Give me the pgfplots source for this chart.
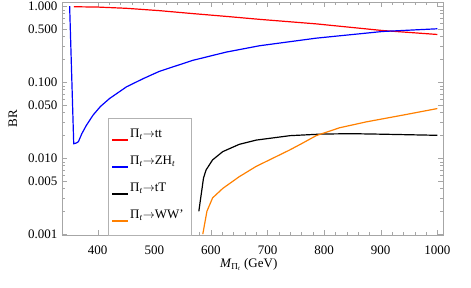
\documentclass[border=0pt]{standalone}
\usepackage{fontspec}
\setmainfont{Liberation Serif}
\usepackage{pgfplots}
\pgfplotsset{compat=1.18}
\definecolor{mmaorange}{rgb}{1,0.5,0}
\protected\def\Pit{Π\textsubscript{\textit{t}}}
\protected\def\ar{$\rightarrow$}
\begin{document}
\fontsize{13}{15}\selectfont
\begin{tikzpicture}
\useasboundingbox (-62pt,-52.5pt) rectangle (409pt,235.5pt);
\begin{axis}[
  scale only axis,
  width=381pt, height=233pt,
  at={(0,0)}, anchor=south west,
  xmin=337, xmax=1010,
  ymode=log, ymin=0.00096, ymax=1.12,
  xtick={400,500,600,700,800,900,1000},
  minor x tick num=4,
  ytick={0.001,0.005,0.01,0.05,0.1,0.5,1},
  yticklabels={0.001,0.005,0.010,0.050,0.100,0.500,1.000},
  minor ytick={0.002,0.003,0.004,0.006,0.007,0.008,0.009,0.02,0.03,0.04,0.06,0.07,0.08,0.09,0.2,0.3,0.4,0.6,0.7,0.8,0.9},
  /pgf/number format/assume math mode=true,
  /pgf/number format/1000 sep={},
  tick align=inside,
  major tick length=5pt, minor tick length=3pt,
  axis line style={gray!70},
  tick style={gray!70},
  xticklabel style={yshift=-6pt},
  xlabel={\textit{M}\textsubscript{\Pit} (GeV)},
  ylabel={BR},
  x label style={at={(axis description cs:0.49,-0.125)}, anchor=center},
  y label style={at={(axis description cs:-0.1286,0.5)}, anchor=center},
]
\addplot[red, line width=1.2pt] coordinates {
(358,0.985) (400,0.975) (450,0.94) (509,0.875) (568,0.80) (627,0.735)
(686,0.672) (786,0.586) (903,0.479) (1000,0.425)
};
\addplot[blue, line width=1.2pt] coordinates {
(350.5,1.0) (357.7,0.0155) (362,0.0158) (366,0.0165) (372,0.021) (380,0.027)
(392,0.037) (405,0.048) (421,0.061) (451,0.087) (480,0.111) (509,0.139)
(568,0.194) (627,0.249) (686,0.302) (786,0.38) (903,0.465) (1000,0.505)
};
\addplot[black, line width=1.2pt] coordinates {
(578.7,0.0020) (587,0.0055) (591.5,0.0070) (603,0.0095) (621,0.0122)
(650,0.0152) (680,0.0173) (740,0.0198) (798,0.0208) (850,0.0210)
(900,0.0207) (1000,0.0200)
};
\addplot[mmaorange, line width=1.2pt] coordinates {
(585.7,0.0010) (593,0.0020) (603,0.0030) (621,0.0040) (650,0.0057)
(680,0.0078) (739,0.0128) (760,0.0155) (786,0.0198) (827,0.0251)
(874,0.030) (940,0.037) (1000,0.045)
};
\end{axis}
% legend
\draw[gray!60, fill=white] (46pt,0pt) rectangle (129pt,117.5pt);
\draw[red, line width=1.2pt] (50pt,95.5pt) -- (66pt,95.5pt);
\draw[blue, line width=1.2pt] (50pt,68.5pt) -- (66pt,68.5pt);
\draw[black, line width=1.2pt] (50pt,41.5pt) -- (66pt,41.5pt);
\draw[mmaorange, line width=1.2pt] (50pt,14.5pt) -- (66pt,14.5pt);
\node[anchor=base west, inner sep=0pt] at (68pt,97.5pt) {\Pit\ar tt};
\node[anchor=base west, inner sep=0pt] at (68pt,70.5pt) {\Pit\ar ZH\textsubscript{\textit{t}}};
\node[anchor=base west, inner sep=0pt] at (68pt,43.5pt) {\Pit\ar tT};
\node[anchor=base west, inner sep=0pt] at (68pt,16.5pt) {\Pit\ar WW'};
\end{tikzpicture}
\end{document}
